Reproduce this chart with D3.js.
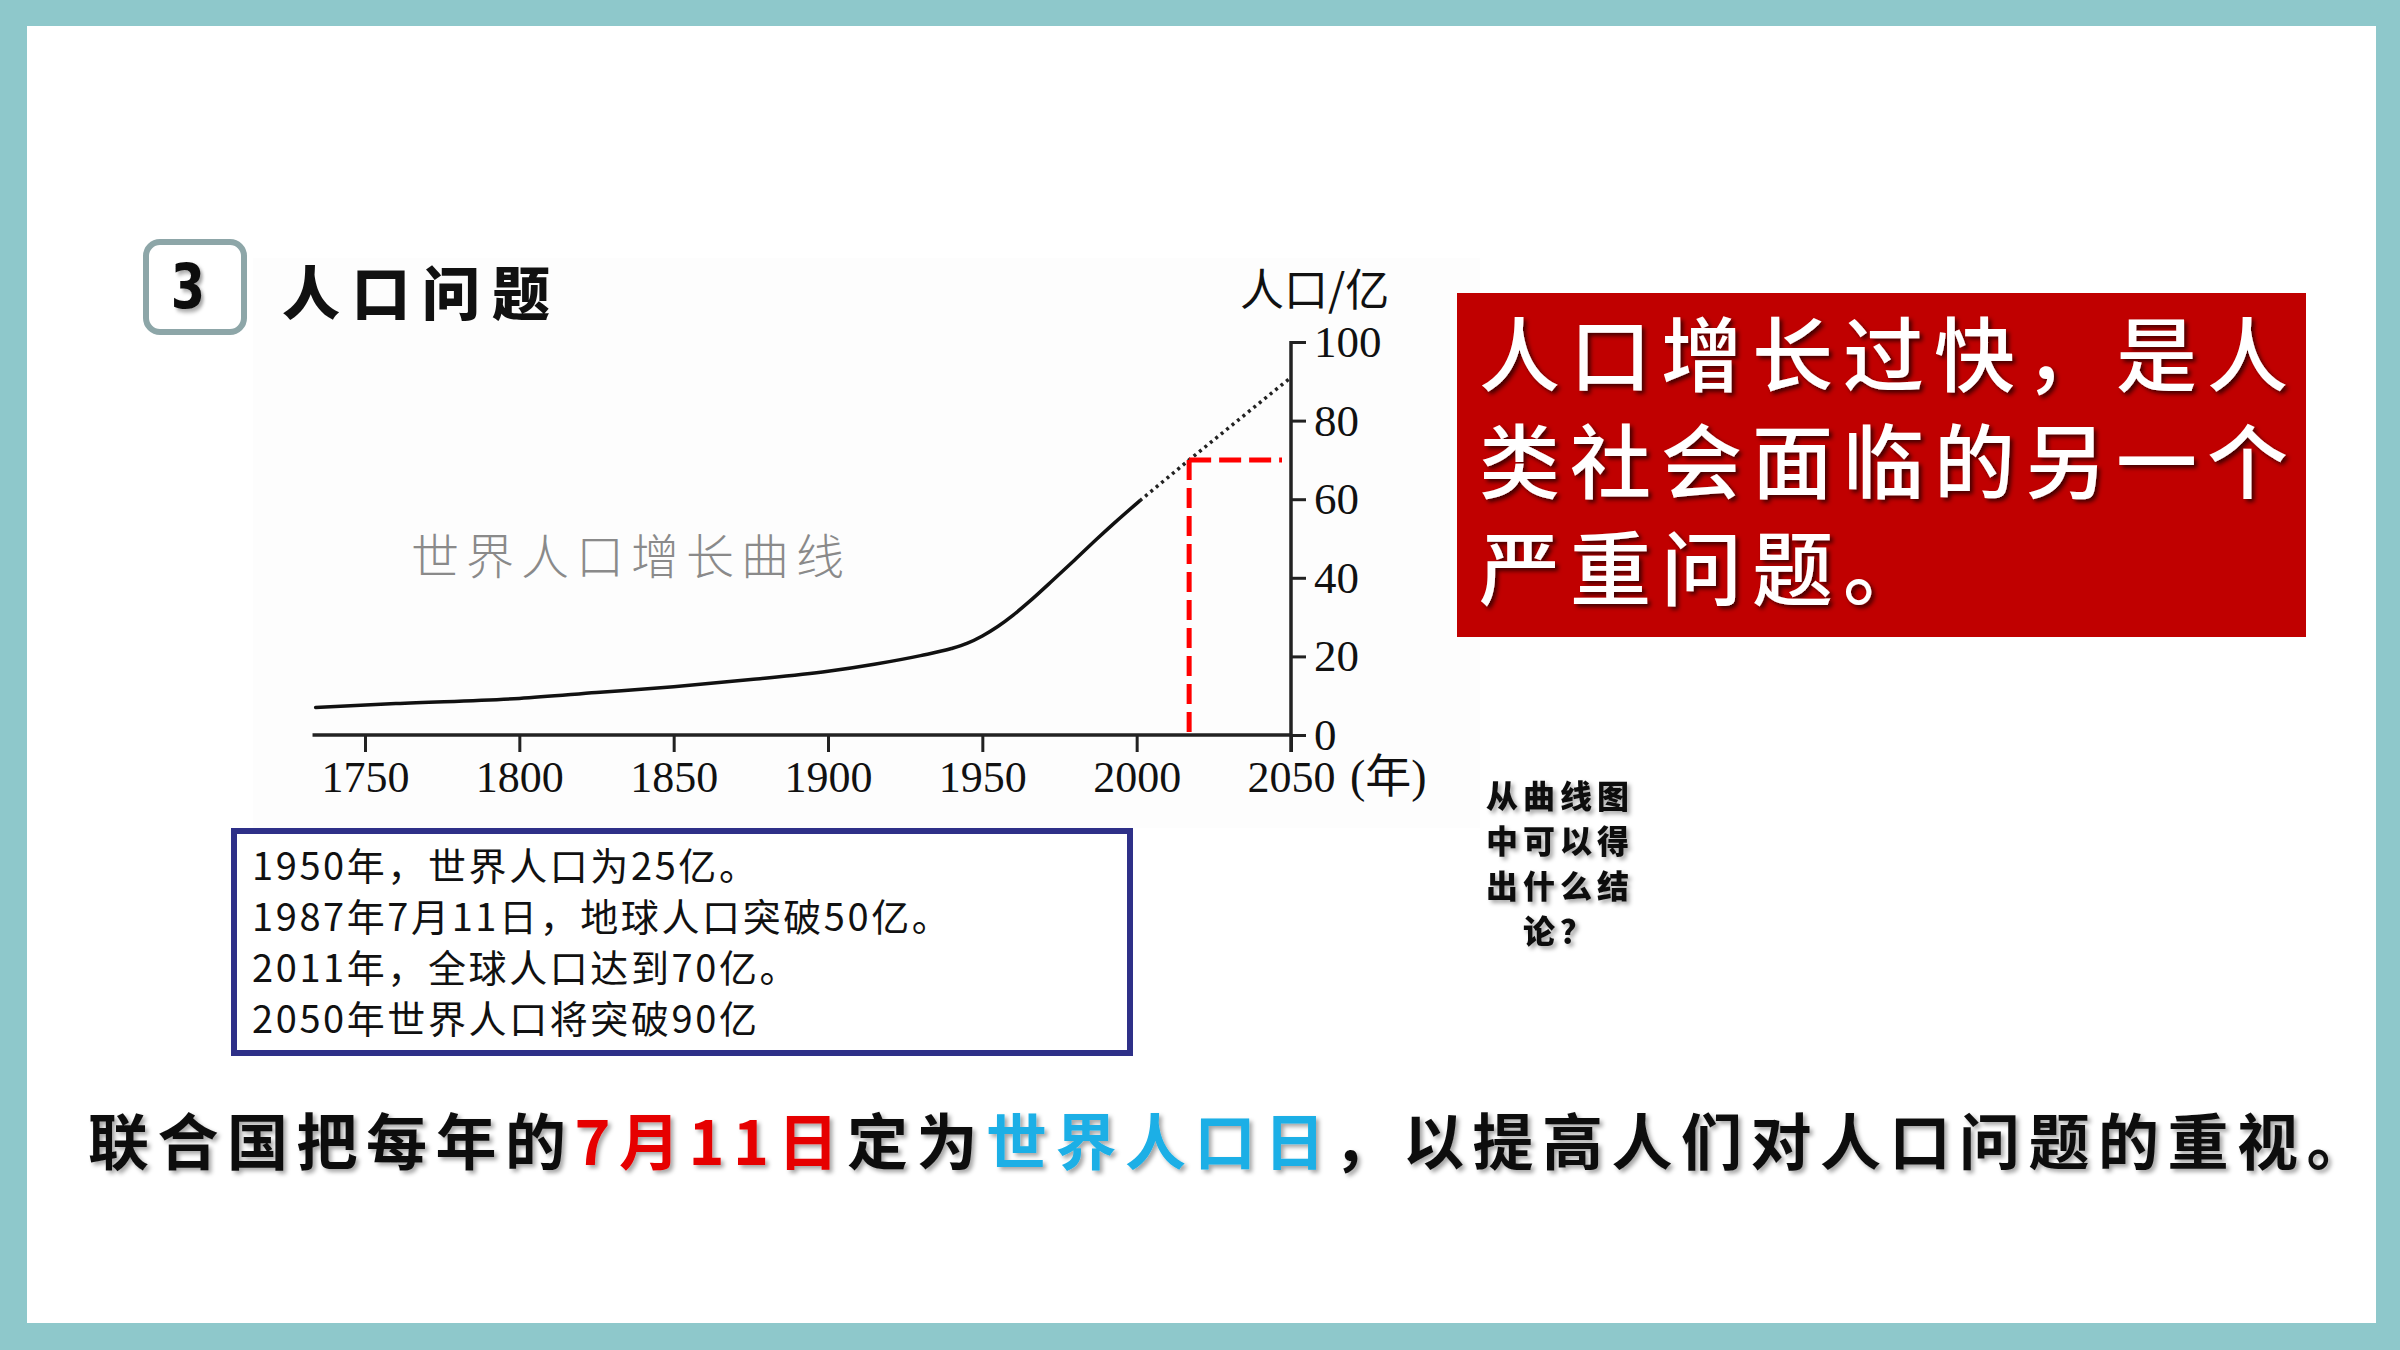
<!DOCTYPE html>
<html><head><meta charset="utf-8">
<script src="https://cdn.jsdelivr.net/npm/d3@7/dist/d3.min.js"></script>
<style>
html,body{margin:0;padding:0;background:#fff;}
svg{display:block;}
</style></head>
<body>
<script>
// ---- data ----
const years = [1734,1760,1800,1825,1850,1875,1900,1915,1930,1940,1945,1950,1955,1960,1965,1973,1980,1987,1993,2001];
const population = [7.0,8.0,9.3,10.8,12.3,14.1,16.2,18.0,20.2,22.0,23.3,25.2,27.6,30.5,33.8,39.5,44.6,49.8,54.1,59.6];
const projYears = [2001,2017,2050];
const projPopulation = [59.6,70,91];
const markYear = 2017;
const markPopulation = 70;
const axisStartYear = 1733;
const xTicks = [1750,1800,1850,1900,1950,2000,2050];
const yTicks = [0,20,40,60,80,100];
const infoLines = ["1950年，世界人口为25亿。","1987年7月11日，地球人口突破50亿。","2011年，全球人口达到70亿。","2050年世界人口将突破90亿"];
const redLines = ["人口增长过快，是人","类社会面临的另一个","严重问题。"];
const questionLines = ["从曲线图","中可以得","出什么结","论？"];
const bottomParts = [
  {t:"联合国把每年的", c:"#111"},
  {t:"7月11日", c:"#E60000"},
  {t:"定为", c:"#111"},
  {t:"世界人口日", c:"#1AAFE6"},
  {t:"，以提高人们对人口问题的重视。", c:"#111"}
];

const CJK = "'Noto Sans CJK SC','Noto Sans',sans-serif";
const SERIF = "'Liberation Serif','Noto Sans CJK SC',serif";

const svg = d3.select("body").append("svg").attr("width",2400).attr("height",1350);
const defs = svg.append("defs");
const f1 = defs.append("filter").attr("id","shadow").attr("x","-10%").attr("y","-10%").attr("width","130%").attr("height","140%");
f1.append("feDropShadow").attr("dx",3).attr("dy",3).attr("stdDeviation",2).attr("flood-color","#000").attr("flood-opacity",0.65);
const f2 = defs.append("filter").attr("id","shadow2").attr("x","-10%").attr("y","-10%").attr("width","130%").attr("height","140%");
f2.append("feDropShadow").attr("dx",3).attr("dy",3).attr("stdDeviation",2).attr("flood-color","#000").attr("flood-opacity",0.35);

// frame
svg.append("rect").attr("x",0).attr("y",0).attr("width",2400).attr("height",1350).attr("fill","#8EC8CB");
svg.append("rect").attr("x",27).attr("y",26).attr("width",2349).attr("height",1297).attr("fill","#fff");

// faint chart image background
svg.append("rect").attr("x",253).attr("y",258).attr("width",1227).attr("height",570).attr("fill","#fdfdfd");

// title
svg.append("rect").attr("x",146).attr("y",242).attr("width",98).attr("height",90).attr("rx",14)
  .attr("fill","#fff").attr("stroke","#8DA6A8").attr("stroke-width",6);
svg.append("text").attr("x",188).attr("y",286).attr("text-anchor","middle").attr("dominant-baseline","central")
  .attr("font-family","'DejaVu Sans',sans-serif").attr("font-weight",900).attr("font-size",58)
  .attr("transform","translate(188,286) scale(0.85,1.08) translate(-188,-286)")
  .attr("filter","url(#shadow2)").attr("fill","#111").text("3");
svg.append("text").attr("x",282).attr("y",290).attr("dominant-baseline","central")
  .attr("font-family",CJK).attr("font-weight",900).attr("font-size",58).attr("letter-spacing",12)
  .attr("fill","#111").text("人口问题");

// scales
const x = d3.scaleLinear().domain([1750,2050]).range([365,1291]);
const y = d3.scaleLinear().domain([0,100]).range([735,342]);

// watermark title
svg.append("text").attr("x",411).attr("y",553).attr("dominant-baseline","central")
  .attr("font-family",CJK).attr("font-weight",300).attr("font-size",48).attr("letter-spacing",7)
  .attr("fill","#8a8a8a").text("世界人口增长曲线");

// x axis
const gx = svg.append("g").attr("transform",`translate(0,${y(0)})`)
  .call(d3.axisBottom(x).tickValues(xTicks).tickSize(17).tickSizeOuter(0).tickPadding(9).tickFormat(d3.format("d")));
gx.select(".domain").remove();
gx.selectAll(".tick line").attr("stroke","#222").attr("stroke-width",3);
gx.selectAll(".tick text").attr("font-family",SERIF).attr("font-size",44).attr("fill","#111");
gx.append("line").attr("x1",x(axisStartYear)).attr("x2",x(2050)).attr("y1",0).attr("y2",0)
  .attr("stroke","#222").attr("stroke-width",3.5);

// y axis
const gy = svg.append("g").attr("transform",`translate(${x(2050)},0)`)
  .call(d3.axisRight(y).tickValues(yTicks).tickSize(15).tickSizeOuter(0).tickPadding(8));
gy.select(".domain").remove();
gy.selectAll(".tick line").attr("stroke","#222").attr("stroke-width",3);
gy.selectAll(".tick text").attr("font-family",SERIF).attr("font-size",45).attr("fill","#111");
gy.append("line").attr("x1",0).attr("x2",0).attr("y1",y(100)-1).attr("y2",y(0)+17)
  .attr("stroke","#222").attr("stroke-width",3.5);

svg.append("text").attr("x",1240).attr("y",287).attr("dominant-baseline","central")
  .attr("font-family",CJK).attr("font-weight",400).attr("font-size",44).attr("fill","#111").text("人口/亿");
svg.append("text").attr("x",1350).attr("y",792)
  .attr("font-family",SERIF).attr("font-size",46).attr("fill","#111").text("(年)");

// curve
const pts = years.map((d,i)=>[x(d),y(population[i])]);
svg.append("path").attr("d",d3.line().curve(d3.curveMonotoneX)(pts))
  .attr("fill","none").attr("stroke","#111").attr("stroke-width",3.5).attr("stroke-linecap","round");
const ppts = projYears.map((d,i)=>[x(d),y(projPopulation[i])]);
svg.append("path").attr("d",d3.line()(ppts))
  .attr("fill","none").attr("stroke","#222").attr("stroke-width",3.5).attr("stroke-dasharray","3 4");

// red marker
svg.append("line").attr("x1",x(markYear)).attr("x2",x(markYear)).attr("y1",y(markPopulation)).attr("y2",y(0))
  .attr("stroke","#FF0000").attr("stroke-width",5).attr("stroke-dasharray","20 8");
svg.append("line").attr("x1",x(markYear)).attr("x2",x(2050)-9).attr("y1",y(markPopulation)).attr("y2",y(markPopulation))
  .attr("stroke","#FF0000").attr("stroke-width",5).attr("stroke-dasharray","22 8");

// red box
svg.append("rect").attr("x",1457).attr("y",293).attr("width",849).attr("height",344).attr("fill","#C00000");
svg.append("g").selectAll("text").data(redLines).join("text")
  .attr("x",1479).attr("y",(d,i)=>349+i*107).attr("dominant-baseline","central")
  .attr("font-family",CJK).attr("font-weight",500).attr("font-size",81).attr("letter-spacing",10)
  .attr("fill","#fff").attr("filter","url(#shadow)").text(d=>d);

// question
svg.append("g").selectAll("text").data(questionLines).join("text")
  .attr("x",1560).attr("y",(d,i)=>794+i*45).attr("text-anchor","middle").attr("dominant-baseline","central")
  .attr("font-family",CJK).attr("font-weight",900).attr("font-size",32).attr("letter-spacing",5)
  .attr("fill","#111").attr("filter","url(#shadow2)").text(d=>d);

// info box
svg.append("rect").attr("x",234).attr("y",831).attr("width",896).attr("height",222)
  .attr("fill","#fff").attr("stroke","#2E3088").attr("stroke-width",6);
svg.append("g").selectAll("text").data(infoLines).join("text")
  .attr("x",252).attr("y",(d,i)=>863+i*51).attr("dominant-baseline","central")
  .attr("font-family",CJK).attr("font-weight",400).attr("font-size",38).attr("letter-spacing",2.6)
  .attr("fill","#111").text(d=>d);

// bottom sentence
const bt = svg.append("text").attr("x",88).attr("y",1138).attr("dominant-baseline","central")
  .attr("font-family",CJK).attr("font-weight",700).attr("font-size",61).attr("letter-spacing",8.5)
  .attr("filter","url(#shadow2)");
bt.selectAll("tspan").data(bottomParts).join("tspan").attr("fill",d=>d.c).text(d=>d.t);
</script>
</body></html>
